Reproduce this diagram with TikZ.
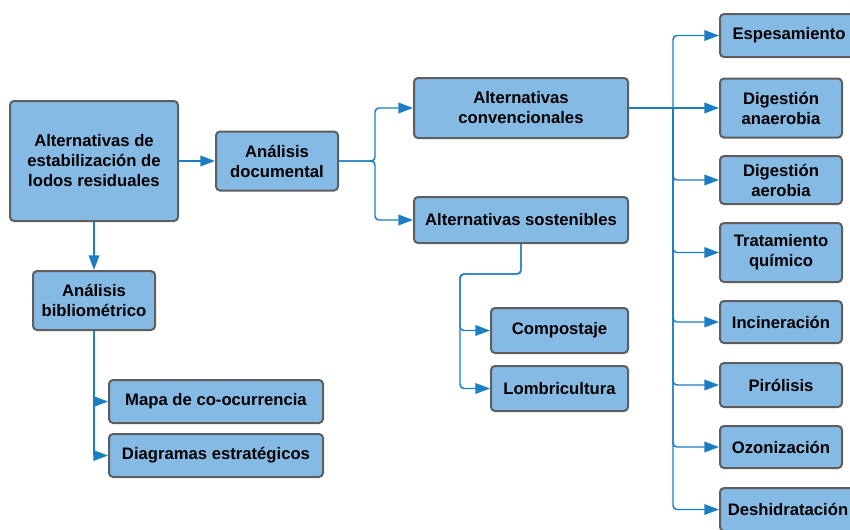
\documentclass[tikz,border=0pt]{standalone}
\usepackage{fontspec}
\setmainfont{Liberation Sans}
\usetikzlibrary{arrows.meta}
\definecolor{boxblue}{HTML}{85BAE5}
\definecolor{boxgray}{HTML}{5E5E5E}
\definecolor{linkblue}{HTML}{1B7EC2}
\tikzset{
  box/.style={draw=boxgray,fill=boxblue,line width=1.5pt,rounded corners=3pt,
    align=center,inner sep=0pt,font=\fontsize{12.5}{15}\selectfont\bfseries},
  boxsize/.style 2 args={minimum width=#1*0.75pt,minimum height=#2*0.75pt},
  link/.style={draw=linkblue,line width=1.1pt,rounded corners=3pt,
    -{Triangle[length=11pt,width=8pt]}}
}

\begin{document}
\begin{tikzpicture}[x=0.75pt,y=-0.75pt]
    \useasboundingbox (0,0) rectangle (850,529);

    % — Starting point and the two ways of analysis
    \node[box,boxsize={168}{120}] (main)   at (94,161)   {Alternativas de\\estabilización de\\lodos residuales};
    \node[box,boxsize={122}{59}]  (doc)    at (277,161)  {Análisis\\documental};
    \node[box,boxsize={122}{59}]  (biblio) at (94,300.5) {Análisis\\bibliométrico};

    % — Bibliometric results
    \node[box,boxsize={214}{43}] (mapa) at (216,401.5) {Mapa de co-ocurrencia};
    \node[box,boxsize={214}{43}] (diag) at (216,455.5) {Diagramas estratégicos};

    % — Groups of alternatives
    \node[box,boxsize={214}{60}] (conv) at (521,108) {Alternativas\\convencionales};
    \node[box,boxsize={214}{46}] (sost) at (521,220) {Alternativas sostenibles};
    \node[box,boxsize={137}{45}] (comp) at (559.5,330.5) {Compostaje};
    \node[box,boxsize={137}{45}] (lomb) at (559.5,388.5) {Lombricultura};

    % — Conventional treatments (right column)
    \node[box,boxsize={142}{43}] (esp)  at (791,35.5)  {Espesamiento\hspace*{3pt}};
    \node[box,boxsize={122}{59}] (dana) at (781,108)   {Digestión\\anaerobia};
    \node[box,boxsize={122}{48}] (daer) at (781,180)   {Digestión\\aerobia};
    \node[box,boxsize={122}{59}] (trat) at (781,252.5) {Tratamiento\\químico};
    \node[box,boxsize={122}{42}] (inci) at (781,322)   {Incineración};
    \node[box,boxsize={122}{44}] (piro) at (781,385)   {Pirólisis};
    \node[box,boxsize={122}{42}] (ozon) at (781,447)   {Ozonización};
    \node[box,boxsize={136}{43}] (desh) at (788,509.5) {Deshidratación};

    % — Bend points of the connectors
    \coordinate (split) at (375,161);
    \coordinate (bus)   at (673,108);
    \coordinate (turn)  at (460,274);

    % — Connectors
    \draw[link] (main) -- (doc);
    \draw[link] (main) -- (biblio);
    \draw[link,rounded corners=0pt] (biblio.south) |- (mapa);
    \draw[link,rounded corners=0pt] (biblio.south) |- (diag);
    \draw[link] (doc.east) -- (split) |- (conv);
    \draw[link] (doc.east) -- (split) |- (sost);
    \draw[link] (sost.south) |- (turn) |- (comp);
    \draw[link] (sost.south) |- (turn) |- (lomb);

    % — Bus to the conventional treatments
    \draw[link] (conv.east) -- (dana);
    \draw[link] (bus) |- (esp);
    \draw[link] (bus) |- (daer);
    \draw[link] (bus) |- (trat);
    \draw[link] (bus) |- (inci);
    \draw[link] (bus) |- (piro);
    \draw[link] (bus) |- (ozon);
    \draw[link] (bus) |- (desh);
\end{tikzpicture}
\end{document}
